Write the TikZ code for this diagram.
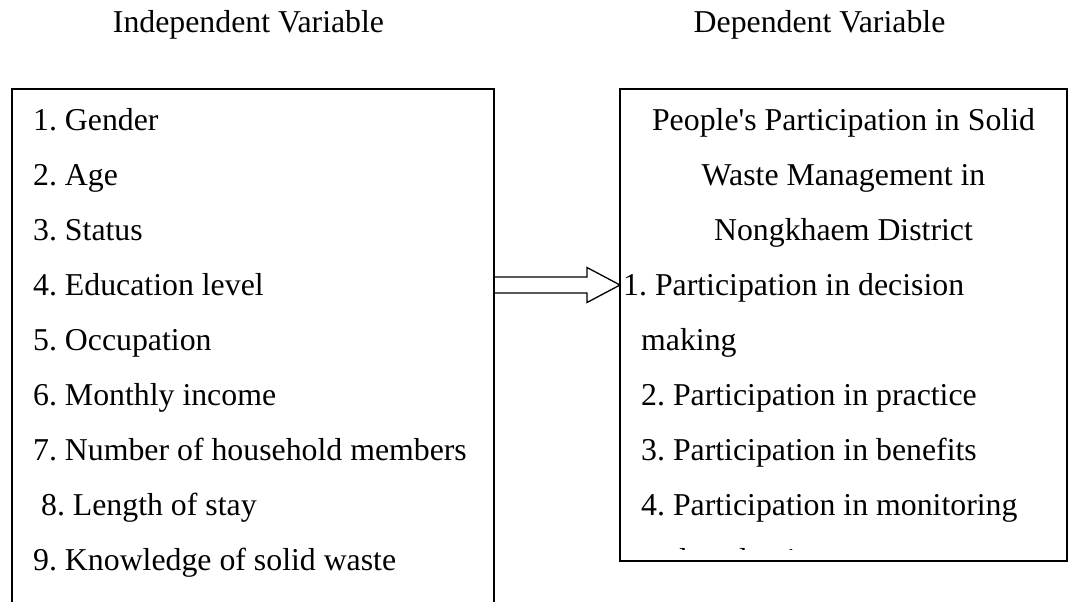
\documentclass[tikz,border=0pt]{standalone}
\usepackage{fontspec}
\setmainfont{Liberation Serif}[Ligatures=TeXOff]
\usetikzlibrary{calc}
\frenchspacing
\begin{document}
\begin{tikzpicture}[x=1pt,y=-1pt,
  txt/.style={inner sep=0pt,anchor=base west,font=\fontsize{31.8}{38}\selectfont},
  ctxt/.style={txt,anchor=base},
  frame/.style={draw,line width=1.4pt,inner sep=0pt,outer sep=0pt,anchor=north west},
  blockarrow/.style={draw,line width=1.3pt,line join=miter}]
\clip (0,0) rectangle (1071,602);

% headings
\node[ctxt] (hind) at (248.5,33) {Independent Variable};
\node[ctxt] (hdep) at (819.5,33) {Dependent Variable};

% frames (the left one runs on past the bottom edge)
\node[frame,minimum width=482pt,minimum height=560pt] (lbox) at (12,89) {};
\node[frame,minimum width=447pt,minimum height=472pt] (rbox) at (620,89) {};

% independent variables
\node[txt] (i1) at (33,130) {1. Gender};
\node[txt] (i2) at (33,185) {2. Age};
\node[txt] (i3) at (33,240) {3. Status};
\node[txt] (i4) at (33,295) {4. Education level};
\node[txt] (i5) at (33,350) {5. Occupation};
\node[txt] (i6) at (33,405) {6. Monthly income};
\node[txt] (i7) at (33,460) {7. Number of household members};
\node[txt] (i8) at (33,515) {\ 8. Length of stay};
\node[txt] (i9) at (33,570) {9. Knowledge of solid waste};

% dependent variable
\node[ctxt] (d1) at (843.5,130) {People's Participation in Solid};
\node[ctxt] (d2) at (843.5,185) {Waste Management in};
\node[ctxt] (d3) at (843.5,240) {Nongkhaem District};
\node[txt] (p1) at (623,295) {1. Participation in decision};
\node[txt] (p1b) at (641,350) {making};
\node[txt] (p2) at (641,405) {2. Participation in practice};
\node[txt] (p3) at (641,460) {3. Participation in benefits};
\node[txt] (p4) at (641,515) {4. Participation in monitoring};
\begin{scope}
  % the last line is cut off by the text area of the frame
  \clip (rbox.north west) rectangle ($(rbox.east |- 0,549.5)$);
  \node[txt] (p4b) at (641,570) {and evaluation};
\end{scope}

% block arrow between the two frames
\coordinate (ay) at (0,285);
\coordinate (as) at (lbox.east |- ay);
\coordinate (at) at (rbox.west |- ay);
\draw[blockarrow] ($(as)+(0,-8)$) -- ($(at)+(-33,-8)$) -- ($(at)+(-33,-17.5)$)
  -- (at) -- ($(at)+(-33,17.5)$) -- ($(at)+(-33,8)$) -- ($(as)+(0,8)$);
\end{tikzpicture}
\end{document}
